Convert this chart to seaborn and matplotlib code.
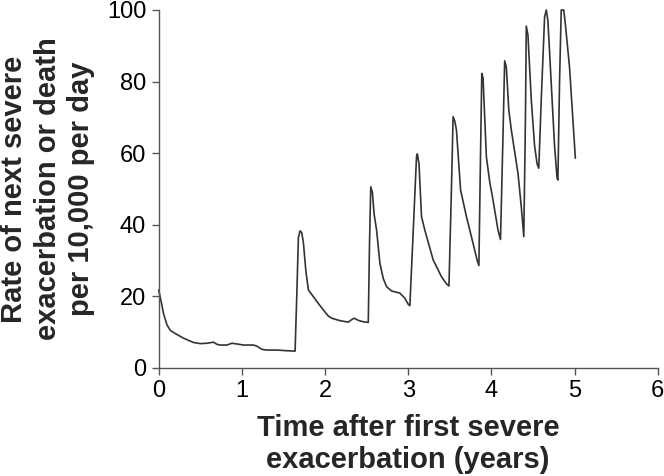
import matplotlib
matplotlib.use("Agg")
import matplotlib.pyplot as plt
import seaborn as sns
import pandas as pd

# Time after first severe exacerbation (years)
time_years = [0.00, 0.03, 0.06, 0.10, 0.14, 0.20, 0.30, 0.42, 0.50, 0.58, 0.66, 0.70, 0.74, 0.82, 0.88, 0.94,
              1.02, 1.14, 1.18, 1.24, 1.30, 1.42, 1.55, 1.64,
              1.66, 1.68, 1.70, 1.72, 1.74, 1.77, 1.80, 1.86, 1.92, 1.98, 2.04, 2.08, 2.18, 2.28, 2.32, 2.35,
              2.40, 2.46, 2.52,
              2.535, 2.55, 2.57, 2.59, 2.62, 2.66, 2.70, 2.74, 2.80, 2.90, 2.96, 3.00, 3.02,
              3.06, 3.10, 3.11, 3.13, 3.16, 3.20, 3.30, 3.40, 3.46, 3.49,
              3.52, 3.54, 3.56, 3.58, 3.63, 3.70, 3.78, 3.83, 3.85,
              3.87, 3.885, 3.90, 3.94, 3.98, 4.02, 4.08, 4.11,
              4.14, 4.16, 4.18, 4.21, 4.24, 4.32, 4.36, 4.39,
              4.41, 4.42, 4.44, 4.48, 4.52, 4.55, 4.57,
              4.60, 4.64, 4.66, 4.68, 4.72, 4.76, 4.79, 4.80,
              4.82, 4.84, 4.87, 4.89, 4.94, 5.01]

# Rate of next severe exacerbation or death per 10,000 per day
rate = [21.8, 18.5, 15.0, 12.0, 10.5, 9.6, 8.3, 7.1, 6.8, 6.9, 7.2, 6.6, 6.4, 6.4, 6.9, 6.7,
        6.4, 6.4, 6.1, 5.2, 5.0, 5.0, 4.8, 4.7,
        20.0, 36.5, 38.3, 37.8, 35.0, 27.0, 21.8, 19.9, 18.0, 16.2, 14.5, 13.9, 13.2, 12.8, 13.5, 13.9,
        13.3, 12.9, 12.7,
        35.0, 50.6, 49.0, 43.0, 38.5, 29.2, 25.0, 22.7, 21.5, 20.9, 19.5, 17.8, 17.4,
        38.0, 59.0, 59.8, 57.0, 42.3, 38.5, 30.2, 25.5, 23.5, 22.9,
        50.0, 70.2, 69.0, 66.5, 49.7, 42.3, 34.8, 30.0, 28.6,
        60.0, 82.3, 81.0, 59.0, 52.0, 46.9, 38.5, 35.9,
        65.0, 85.8, 84.0, 72.0, 66.5, 54.4, 45.0, 36.7,
        70.0, 95.5, 93.0, 74.9, 62.0, 57.0, 55.8,
        75.0, 98.0, 100.0, 97.0, 79.5, 62.0, 53.0, 52.5,
        80.0, 100.0, 100.0, 96.0, 84.0, 58.6]

x_ticks = [0, 1, 2, 3, 4, 5, 6]
y_ticks = [0, 20, 40, 60, 80, 100]

sns.set_style("ticks")
plt.rcParams["font.family"] = ["Liberation Sans", "DejaVu Sans"]

df = pd.DataFrame({"t": time_years, "r": rate})

fig, ax = plt.subplots(figsize=(6.64, 4.76), dpi=100)
fig.subplots_adjust(left=0.239, right=0.9905, bottom=0.227, top=0.979)

sns.lineplot(data=df, x="t", y="r", sort=False, estimator=None, ax=ax,
             color="#333333", linewidth=1.2, clip_on=False)

ax.set_xlim(0, 6)
ax.set_ylim(0, 100)
ax.set_xticks(x_ticks)
ax.set_yticks(y_ticks)
ax.tick_params(axis="both", labelsize=17, length=5, width=1.0, color="#555555", labelcolor="black", pad=4)

for side in ["top", "right"]:
    ax.spines[side].set_visible(False)
for side in ["left", "bottom"]:
    ax.spines[side].set_color("#555555")
    ax.spines[side].set_linewidth(1.0)

ax.set_xlabel("Time after first severe\nexacerbation (years)", fontsize=21, fontweight="bold",
              linespacing=1.2)
ax.set_ylabel("Rate of next severe\nexacerbation or death\nper 10,000 per day", fontsize=21,
              fontweight="bold", linespacing=1.25)
ax.xaxis.label.set_va("center")
ax.yaxis.label.set_va("center")
ax.yaxis.label.set_ha("center")
ax.xaxis.set_label_coords(0.5, -0.213)
ax.yaxis.set_label_coords(-0.222, 0.5)

fig.savefig("out.png", dpi=100)
